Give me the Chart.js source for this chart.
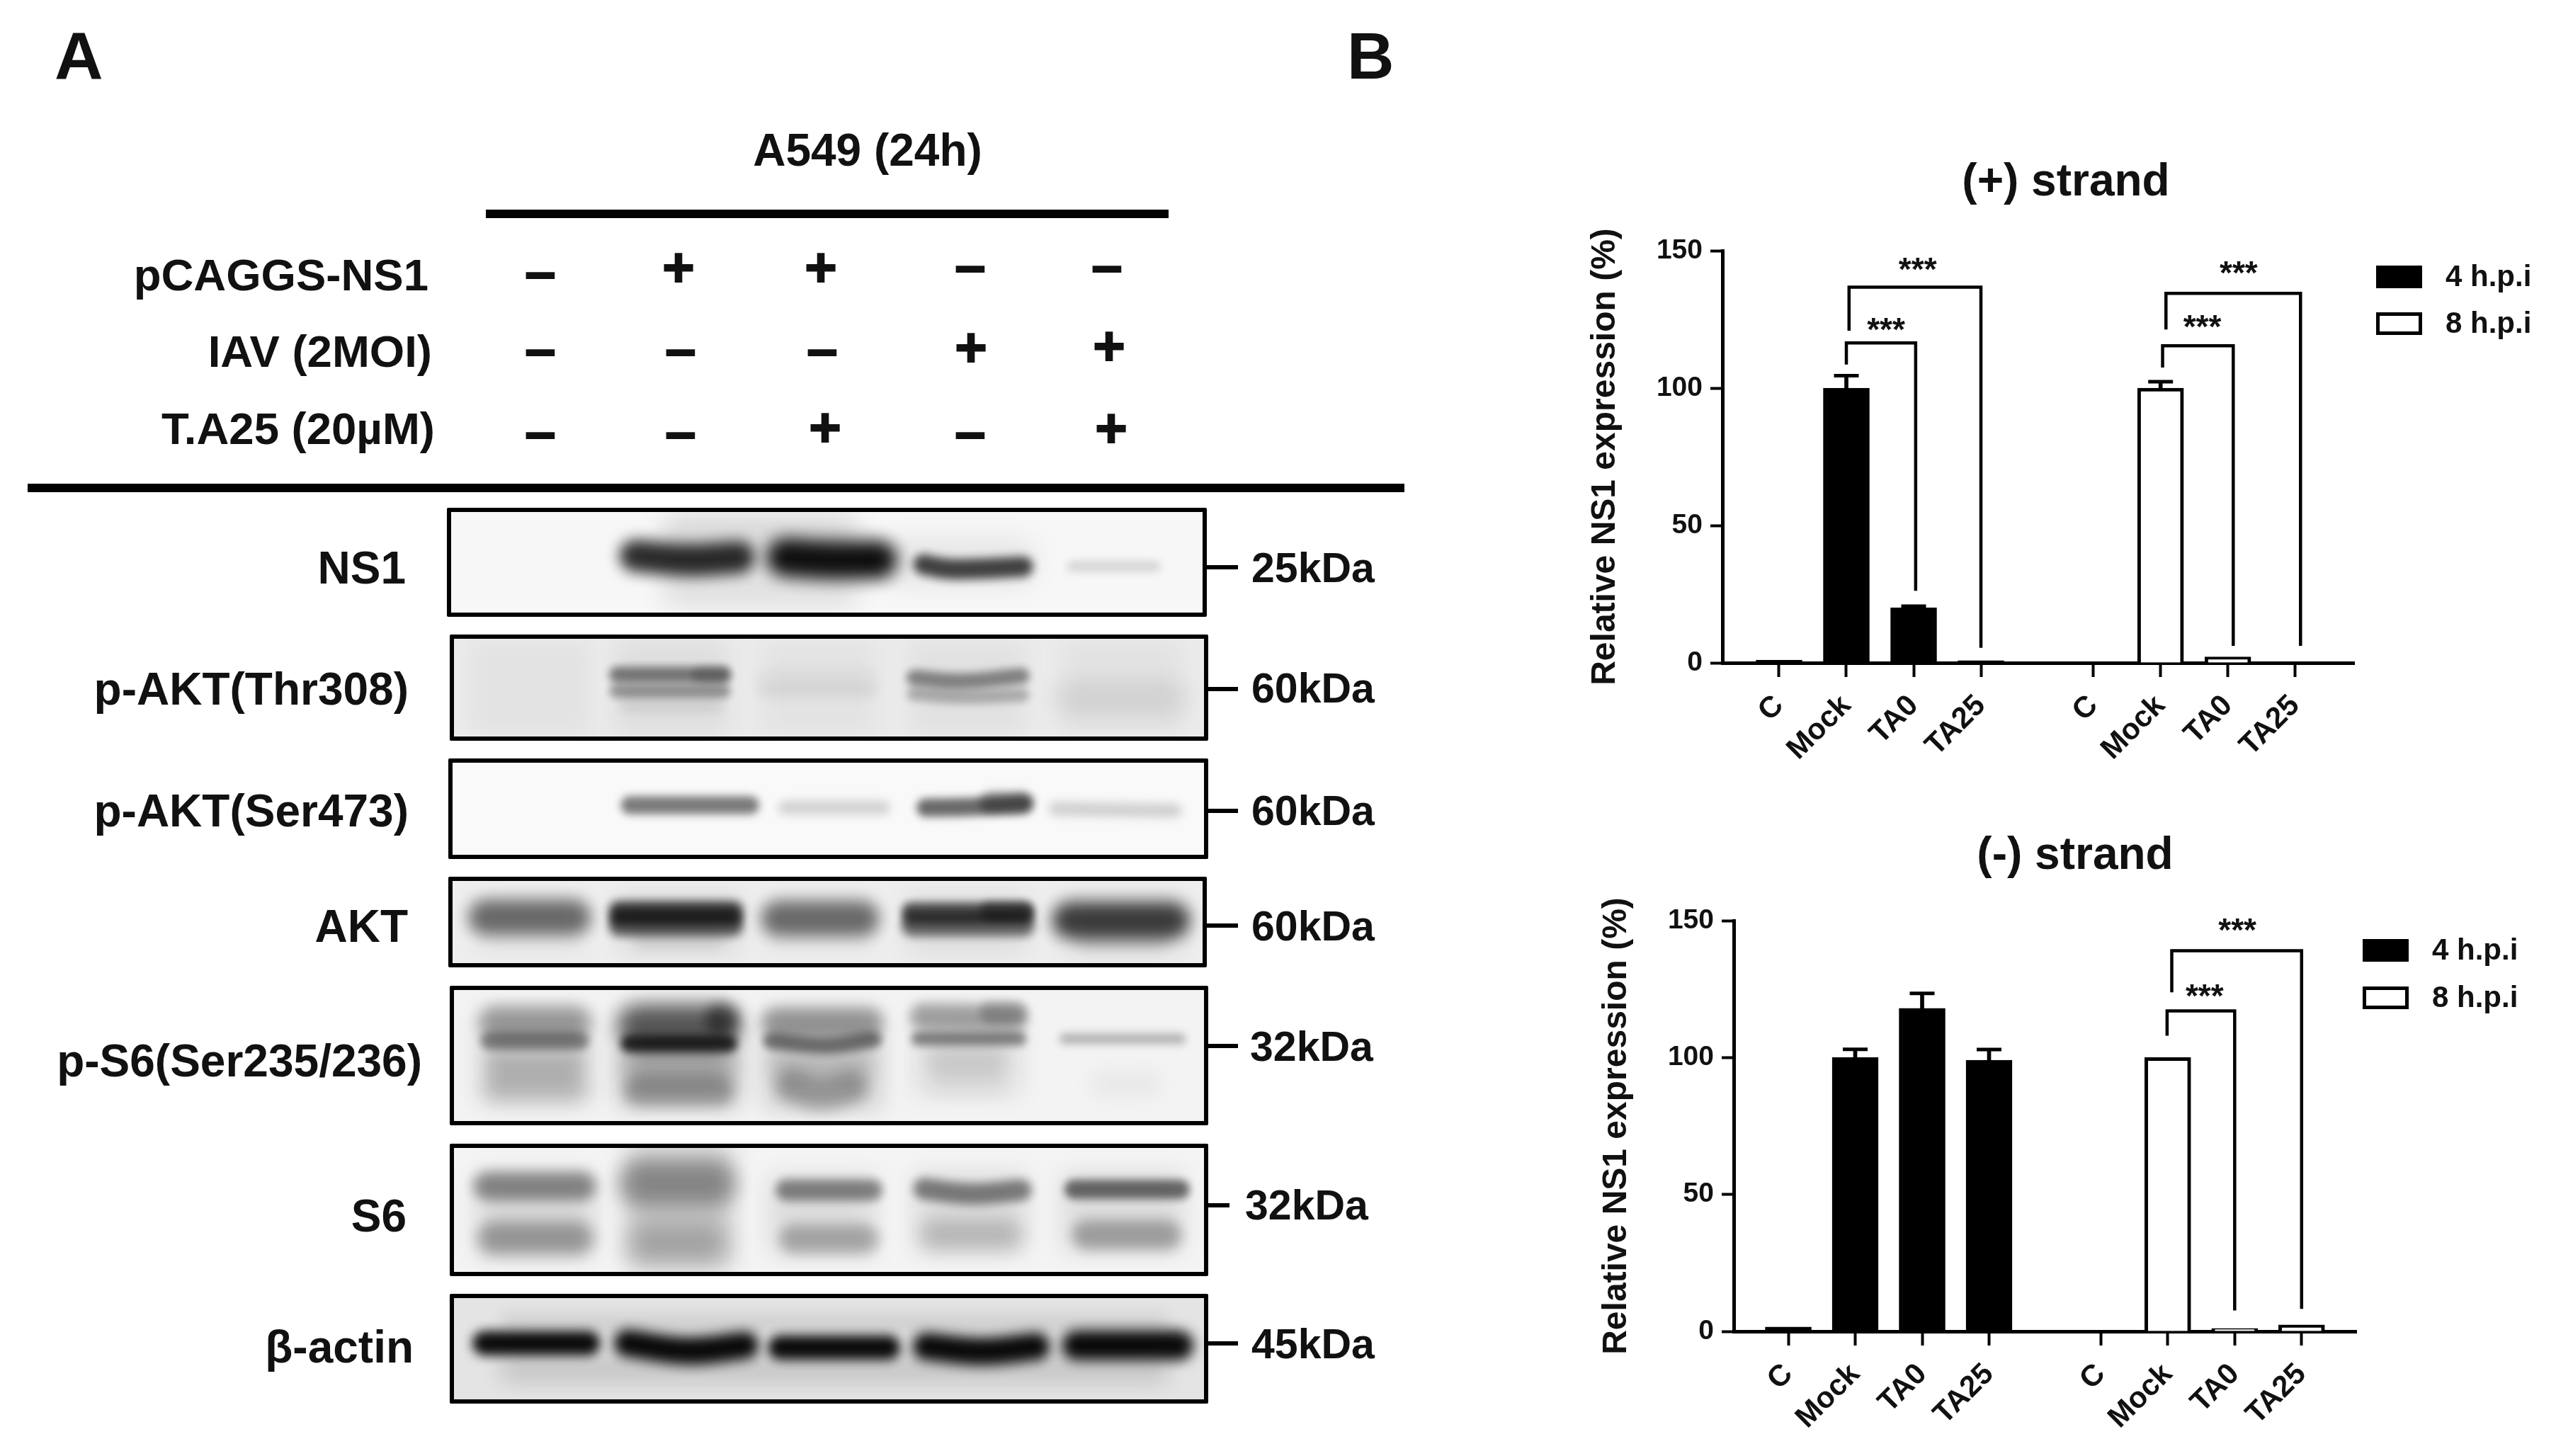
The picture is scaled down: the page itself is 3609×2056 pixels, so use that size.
<!DOCTYPE html>
<html><head><meta charset="utf-8">
<script src="https://cdn.jsdelivr.net/npm/chart.js@4"></script>
<style>
html,body{margin:0;padding:0;background:#fff;width:3609px;height:2056px;overflow:hidden}
.t{position:absolute;font-family:"Liberation Sans",Arial,sans-serif;font-weight:700;color:#111;line-height:1;white-space:nowrap}
.bar{position:absolute;background:#000}
.blot{position:absolute}
.blot canvas{position:absolute;left:0;top:0}
.blot .fr{position:absolute;inset:0;border:6px solid #000;box-sizing:border-box;border-radius:2px}
canvas.plot{position:absolute}
</style></head><body>
<script>
// ---------- Panel B data ----------
const groupLabels = ['C','Mock','TA0','TA25','C','Mock','TA0','TA25'];
const plus4h  = [1,100,20,0.8];
const plus4hErr = [0,4.5,0.6,0];
const plus8h  = [0,100,2.2,0];
const plus8hErr = [0,2.3,0,0];
const minus4h = [1.6,100,118,99];
const minus4hErr = [0,3,5.4,3.9];
const minus8h = [0,100,1.1,2.4];
const minus8hErr = [0,0,0,0];
const plusBrackets = [
  [[2,108.6],[2,116.4],[3.03,116.4],[3.03,26.2]],
  [[2.04,120.9],[2.04,136.7],[4,136.7],[4,5.5]],
  [[6.7,107.5],[6.7,115.4],[7.75,115.4],[7.75,6.2]],
  [[6.75,121.3],[6.75,134.5],[8.75,134.5],[8.75,6.2]]
];
const minusBrackets = [
  [[6.66,108],[6.66,117],[7.67,117],[7.67,7.6]],
  [[6.73,123.8],[6.73,139],[8.67,139],[8.67,8.2]]
];
const plusStars = [[2.59,122.8],[3.06,144.8],[7.29,123.8],[7.83,143.5]];
const minusStars = [[7.22,124],[7.71,148]];
const yTicks = [0,50,100,150];
const seriesNames = ['4 h.p.i','8 h.p.i'];

// ---------- Panel A data ----------
const treatmentNames = ['pCAGGS-NS1','IAV (2MOI)','T.A25 (20µM)'];
const pCAGGS = ['–','+','+','–','–'];
const IAV    = ['–','–','–','+','+'];
const TA25   = ['–','–','+','–','+'];
const blotNames = ['NS1','p-AKT(Thr308)','p-AKT(Ser473)','AKT','p-S6(Ser235/236)','S6','β-actin'];
const blotSizes = ['25kDa','60kDa','60kDa','60kDa','32kDa','32kDa','45kDa'];
// each band: [lane positions], [migration, % of blot height], spread, density
const bandsNS1 = [
 [[1.9,3.2],[27,27],40,.13],[[1.9,3.2],[70,70],45,.09],[[3.4,4.4],[50,50],50,.06],
 [[1.62,2.06,2.49],[44,48,45.5],30,.85],
 [[2.62,3.03,3.45],[45.5,48,47.6],36,.97],
 [[3.6,3.81,4.01,4.38],[52,56,56,54],19,.75],
 [[4.63,5.25],[53.7,53.7],10,.14]];
const bandsThr = [
 [[1.95,1.95],[6,94],160,.05],[[2.95,2.95],[6,94],160,.03],[[3.95,3.95],[6,94],160,.04],[[5,5],[6,94],170,.035],[[1,1],[6,94],170,.03],
 [[1.54,2.34],[37.8,37.8],15,.5],[[2.1,2.34],[38,38],15,.2],
 [[1.54,2.34],[53.3,53.3],12,.38],[[1.6,2.3],[66,66],15,.07],
 [[2.53,3.34],[44,44],20,.05],[[2.53,3.34],[55,55],15,.04],
 [[3.55,3.9,4.36],[40.7,44,39],15,.45],[[3.55,3.9,4.36],[56,59,57],12,.27],
 [[4.55,5.42],[59.5,59.5],33,.08]];
const bandsSer = [
 [[1.62,2.53],[46.5,46.5],17,.52],
 [[2.68,3.42],[49,49],13,.16],
 [[3.62,4,4.38],[49,48,45],17,.6],[[4.05,4.38],[44,44],20,.38],
 [[4.51,5.39],[50,52],13,.17]];
const bandsAkt = [
 [[1,1],[25,80],150,.06],[[2,2],[20,85],170,.08],[[2.95,2.95],[25,80],150,.05],[[3.95,3.95],[20,85],170,.07],[[5,5],[22,85],170,.08],
 [[0.6,1.38],[44.7,44.7],33,.55],
 [[1.54,2.42],[38.2,38.2],19,.8],[[1.54,2.42],[53.8,53.8],20,.66],[[1.54,2.42],[46,46],10,.5],[[1.7,2.3],[70,70],18,.08],
 [[2.58,3.33],[46,46],33,.55],
 [[3.52,4.39],[38.2,38.2],17,.68],[[3.52,4.39],[53.8,53.8],20,.6],[[3.52,4.39],[46,46],10,.4],[[4.05,4.38],[38,38],18,.4],
 [[4.55,5.43],[48,48],34,.76],[[4.7,5.3],[68,68],20,.12]];
const bandsPS6 = [
 [[1.03,1.03],[18,84],155,.16],[[2,2],[18,86],170,.24],[[2.97,2.97],[18,88],165,.16],[[3.95,3.95],[18,78],150,.09],
 [[0.67,1.38],[26.2,26.2],30,.3],[[0.67,1.38],[39.7,39.7],16,.4],[[0.7,1.35],[55.7,55.7],22,.13],[[0.7,1.35],[71.8,71.8],26,.14],
 [[1.62,2.38],[28.7,28.7],40,.58],[[1.62,2.38],[41.4,41.4],16,.8],[[2.2,2.38],[24,24],28,.5],[[1.65,2.35],[59,59],34,.16],[[1.65,2.35],[75.7,75.7],28,.24],
 [[2.58,3.36],[26.5,26.5],28,.32],[[2.58,3,3.36],[39.7,43,38.8],15,.48],[[2.62,3.3],[59,59],26,.12],[[2.68,2.95,3.25],[72,78,73],30,.28],
 [[3.58,4.34],[22,23],24,.32],[[4.05,4.34],[19,19],20,.22],[[3.58,4.34],[38,38],13,.45],[[3.7,4.2],[54,54],24,.1],[[3.7,4.2],[70,70],26,.04],
 [[4.58,5.42],[38,38],10,.27],[[4.8,5.25],[70.5,70.5],26,.04]];
const bandsS6 = [
 [[1.03,1.03],[22,86],165,.12],[[2,2],[2,94],150,.2],[[2.97,2.97],[24,84],150,.1],[[3.97,3.97],[22,82],160,.1],[[5,5],[22,82],170,.1],
 [[0.63,1.42],[32,32],26,.42],[[0.66,1.4],[71.4,71.4],30,.32],
 [[1.62,2.36],[30,30],40,.34],[[1.68,2.3],[75,75],36,.18],
 [[2.67,3.36],[35,35],20,.46],[[2.7,3.33],[72,72],27,.27],
 [[3.6,3.98,4.37],[34,38,35],20,.48],[[3.65,4.3],[69,69],27,.19],
 [[4.62,5.44],[34.5,34.5],18,.58],[[4.68,5.38],[69,69],27,.3]];
const bandsActin = [
 [[0.8,5.3],[28,28],20,.09],[[0.8,5.3],[68,68],28,.13],
 [[0.62,1.45],[45,45],23,.98],
 [[1.58,2.06,2.52],[45,52,47],26,.99],
 [[2.62,3.48],[49,49],23,.98],
 [[3.6,4.05,4.49],[48,52.5,48],26,.99],
 [[4.61,5.46],[47,47],28,.99]];
const blotBands = [bandsNS1,bandsThr,bandsSer,bandsAkt,bandsPS6,bandsS6,bandsActin];

// ---------- layout (page pixels, not data) ----------
const blotBoxes = [[631,717,1704,871],[635,896,1706,1046],[633,1071,1706,1213],[633,1238,1704,1366],[635,1392,1706,1589],[635,1615,1706,1802],[635,1827,1706,1982]];
const blotBg = ['#f7f7f7','#ebebeb','#f9f9f9','#eeeeee','#f3f3f3','#f4f4f4','#e4e4e4'];
const nameCY = [802,973,1145,1308,1498,1717,1902];
const nameRight = [573,577,577,576,596,574,584];
const sizeCY = [802,972,1145,1308,1478,1702,1898];
const sizeLeft = [1767,1767,1767,1767,1765,1758,1767];
const markY = [801,973,1145,1307,1477,1702,1897];
const markX2 = [1748,1748,1748,1748,1748,1736,1748];
const signCols = [[763,958,1159,1370,1563],[763,961,1161,1371,1566],[763,961,1165,1370,1569]];
const signRowsY = [[387,379,379,378,378],[496,496,496,492,490],[613,613,605,613,606]];
const treatRight = [605,610,614];
const treatCY = [389,497,606];
const laneX0 = 749.8, laneUnit = 208.8;

function txt(s,opt){
  const d=document.createElement('div');d.className='t';d.textContent=s;
  d.style.fontSize=opt.size+'px';
  d.style.top=opt.cy+'px';
  let tx='0';
  if(opt.right!==undefined){d.style.right=(3609-opt.right)+'px';}
  else if(opt.cx!==undefined){d.style.left=opt.cx+'px';tx='-50%';}
  else d.style.left=opt.left+'px';
  d.style.transform='translate('+tx+',-50%)';
  if(opt.stroke)d.style.webkitTextStroke=opt.stroke+'px #111';
  document.body.appendChild(d);return d;
}
function rect(x1,y1,x2,y2){const d=document.createElement('div');d.className='bar';
  d.style.cssText='left:'+x1+'px;top:'+y1+'px;width:'+(x2-x1)+'px;height:'+(y2-y1)+'px';document.body.appendChild(d);}

txt('A',{left:77,cy:79,size:95});
txt('B',{left:1902,cy:79,size:92});
txt('A549 (24h)',{cx:1225,cy:212,size:64});
rect(686,296,1650,308);
rect(39,683,1983,695);
treatmentNames.forEach((n,i)=>txt(n,{right:treatRight[i],cy:treatCY[i],size:63.5}));
[pCAGGS,IAV,TA25].forEach((row,r)=>row.forEach((s,c)=>{
  txt(s,{cx:signCols[r][c],cy:signRowsY[r][c]-(s==='+'?2:4),size:78,stroke:2});
}));
blotNames.forEach((n,i)=>{
  txt(n,{right:nameRight[i],cy:nameCY[i],size:64});
  txt(blotSizes[i],{left:sizeLeft[i],cy:sizeCY[i],size:59});
  rect(blotBoxes[i][2],markY[i]-3,markX2[i],markY[i]+3);
});

const blurPlugin={id:'blotBlur',
  beforeDatasetDraw(ch,args){
    const ds=ch.data.datasets[args.index];
    ch.ctx.save();ch.ctx.filter='blur('+ds.softness+'px)';},
  afterDatasetDraw(ch){ch.ctx.restore();}};

blotBands.forEach((bands,i)=>{
  const [x1,y1,x2,y2]=blotBoxes[i];
  const w=x2-x1,h=y2-y1;
  const box=document.createElement('div');box.className='blot';
  box.style.cssText='left:'+x1+'px;top:'+y1+'px;width:'+w+'px;height:'+h+'px;background:'+blotBg[i];
  const c=document.createElement('canvas');c.width=w;c.height=h;c.style.width=w+'px';c.style.height=h+'px';
  box.appendChild(c);
  const fr=document.createElement('div');fr.className='fr';box.appendChild(fr);
  document.body.appendChild(box);
  new Chart(c,{type:'scatter',
    data:{datasets:bands.map(b=>{
      const smear=b[2]>=60, thick=smear?b[2]:b[2]*1.5;
      const inset=smear?0:(thick*0.4)/laneUnit;
      const last=b[0].length-1;
      return {
        label:blotNames[i],
        data:b[0].map((x,k)=>({x:x+(k===0?inset:k===last?-inset:0),y:b[1][k]})),
        softness:Math.min(16,Math.max(6,b[2]*(b[3]<.2?.5:.33))),
        showLine:true,pointRadius:0,tension:.4,
        borderWidth:thick,borderColor:'rgba(8,8,8,'+b[3]+')',borderCapStyle:smear?'butt':'round'};
    })},
    options:{responsive:false,animation:false,devicePixelRatio:1,events:[],
      layout:{padding:0},
      plugins:{legend:{display:false},tooltip:{enabled:false}},
      scales:{
        x:{type:'linear',display:false,min:1+(x1-laneX0)/laneUnit,max:1+(x2-laneX0)/laneUnit},
        y:{type:'linear',display:false,min:0,max:100,reverse:true}}},
    plugins:[blurPlugin]});
});

// ---------- Panel B ----------
const sans='"Liberation Sans",Arial,sans-serif';
const xPos=groupLabels.map((_,i)=>i+1+(i>=4?0.67:0));

const marksPlugin={id:'marks',
  afterLayout(ch,_,o){
    // the title is centred on its own measured axis, not on the canvas
    const t=ch.titleBlock; if(t){t.left=o.titleCx-300;t.right=o.titleCx+300;}
  },
  afterDatasetsDraw(ch,_,o){
    const {ctx,scales:{x,y}}=ch;
    ctx.save();ctx.fillStyle='#111';ctx.font='bold 46px '+sans;ctx.textAlign='center';ctx.textBaseline='middle';
    o.stars.forEach(s=>ctx.fillText('***',x.getPixelForValue(s[0]),y.getPixelForValue(s[1])+9));
    ctx.restore();
    ctx.save();ctx.textBaseline='middle';ctx.textAlign='left';ctx.font='bold 42px '+sans;
    o.legend.forEach((l,i)=>{
      ctx.fillStyle=i===0?'#000':'#fff';ctx.strokeStyle='#000';ctx.lineWidth=5;
      ctx.fillRect(l[0],l[1],65,32);ctx.strokeRect(l[0]+2.5,l[1]+2.5,60,27);
      ctx.fillStyle='#111';ctx.fillText(seriesNames[i],l[0]+98,l[1]+17);
    });
    ctx.restore();
  }};

function barChart(o){
  const c=document.createElement('canvas');c.className='plot';
  c.width=o.R-o.L;c.height=o.B-o.T;
  c.style.cssText='left:'+o.L+'px;top:'+o.T+'px;width:'+(o.R-o.L)+'px;height:'+(o.B-o.T)+'px';
  document.body.appendChild(c);
  const barDs=(label,vals,offset,bg)=>({type:'bar',label,order:5,grouped:false,barThickness:65,clip:false,
    backgroundColor:bg,borderColor:'#000',borderWidth:5,
    data:vals.map((v,i)=>({x:xPos[i+offset],y:v}))});
  const errEntries=(vals,errs,offset)=>vals.map((v,i)=>({x:xPos[i+offset],v,e:errs[i]})).filter(d=>d.e>0);
  const errs=[...errEntries(o.v4,o.e4,0),...errEntries(o.v8,o.e8,4)];
  const datasets=[
    barDs(seriesNames[0],o.v4,0,'#000'),
    barDs(seriesNames[1],o.v8,4,'#fff'),
    {type:'bar',label:'error',order:6,grouped:false,barThickness:5,backgroundColor:'#000',
      data:errs.map(d=>({x:d.x,y:[d.v,d.v+d.e]}))},
    {type:'scatter',label:'error cap',order:1,pointStyle:'line',pointRadius:17.5,pointBorderWidth:5,pointBorderColor:'#000',
      data:errs.map(d=>({x:d.x,y:d.v+d.e}))},
    ...o.brackets.map(b=>({type:'line',label:'bracket',order:2,borderColor:'#000',borderWidth:4.5,pointRadius:0,tension:0,clip:false,
      data:b.map(p=>({x:p[0],y:p[1]}))}))
  ];
  const chart=new Chart(c,{type:'bar',data:{datasets},
    options:{responsive:false,animation:false,devicePixelRatio:1,events:[],
      font:{family:sans},
      layout:{padding:{left:o.pl,top:0,right:o.R-o.plotR,bottom:0}},
      plugins:{legend:{display:false},tooltip:{enabled:false},
        title:{display:true,text:o.title,color:'#111',font:{family:sans,size:64,weight:'bold'},padding:{top:o.titleTop,bottom:10}},
        marks:{stars:o.stars,titleCx:o.titleCx-o.L,legend:o.legend.map(p=>[p[0]-o.L,p[1]-o.T])}},
      scales:{
        x:{type:'linear',min:o.xMin,max:o.xMax,offset:false,
          afterBuildTicks:s=>{s.ticks=xPos.map(v=>({value:v}));},
          afterFit:s=>{s.height=o.B-o.plotB;},
          border:{display:true,color:'#000',width:5},
          grid:{display:true,drawOnChartArea:false,drawTicks:true,offset:false,tickLength:20,tickWidth:4,tickColor:'#000'},
          ticks:{autoSkip:false,maxRotation:45,minRotation:45,padding:16,color:'#111',
            font:{family:sans,size:42,weight:'bold'},
            callback:(v,i)=>groupLabels[i]}},
        y:{type:'linear',min:0,max:150,
          afterBuildTicks:s=>{s.ticks=yTicks.map(v=>({value:v}));},
          afterFit:s=>{s.width=o.plotL-o.L-o.pl;},
          border:{display:true,color:'#000',width:5},
          grid:{display:true,drawOnChartArea:false,drawTicks:true,tickLength:17,tickWidth:4,tickColor:'#000'},
          ticks:{padding:11,color:'#111',font:{family:sans,size:39,weight:'bold'}},
          title:{display:true,text:'Relative NS1 expression (%)',color:'#111',padding:{top:0,bottom:0},
            font:{family:sans,size:48,weight:'bold'}}}}},
    plugins:[marksPlugin]});
  // settle the plot area on its measured frame
  for(let k=0;k<3;k++){
    const a=chart.chartArea,tp=chart.options.plugins.title.padding;
    tp.bottom+= (o.plotT-o.T)-a.top;
    chart.update('none');
  }
  return chart;
}

barChart({L:2225,R:3609,T:200,B:1140,pl:13,plotL:2432,plotR:3324,plotT:354,plotB:936,titleTop:20,titleCx:2917,
  xMin:0.158,xMax:9.547,title:'(+) strand',v4:plus4h,e4:plus4hErr,v8:plus8h,e8:plus8hErr,
  brackets:plusBrackets,stars:plusStars,legend:[[3355,375],[3355,441]]});
barChart({L:2251,R:3609,T:1140,B:2056,pl:3,plotL:2448,plotR:3327,plotT:1300,plotB:1880,titleTop:31,titleCx:2930,
  xMin:0.185,xMax:9.487,title:'(-) strand',v4:minus4h,e4:minus4hErr,v8:minus8h,e8:minus8hErr,
  brackets:minusBrackets,stars:minusStars,legend:[[3336,1326],[3336,1393]]});
</script>
</body></html>
